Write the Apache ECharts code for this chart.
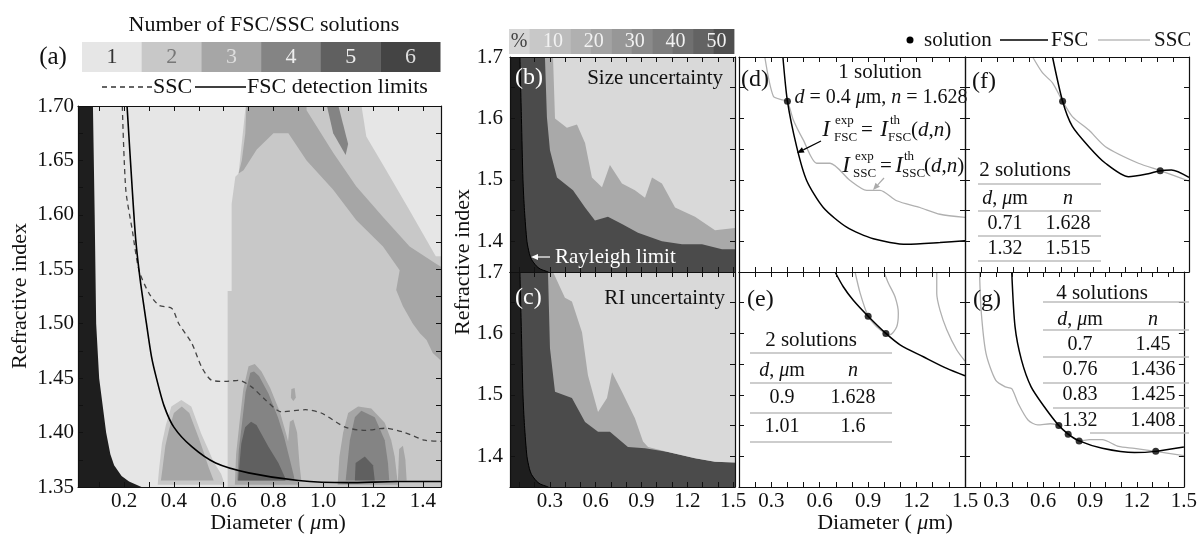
<!DOCTYPE html>
<html>
<head>
<meta charset="utf-8">
<script src="https://cdn.jsdelivr.net/npm/echarts@6/dist/echarts.min.js"></script>
<style>
  html, body { margin: 0; background: #fff; }
  #chart { width: 1200px; height: 537px; }
</style>
</head>
<body>
<div id="chart"></div>
<script>
const FONT = '"Liberation Serif", "Times New Roman", serif';

// ---------- ticks ----------
const aXTicks = [0.1, 0.2, 0.3, 0.4, 0.5, 0.6, 0.7, 0.8, 0.9, 1.0, 1.1, 1.2, 1.3, 1.4];
const aXLabels = [0.2, 0.4, 0.6, 0.8, 1.0, 1.2, 1.4];
const aYTicks = [1.375, 1.4, 1.425, 1.45, 1.475, 1.5, 1.525, 1.55, 1.575, 1.6, 1.625, 1.65, 1.675];
const aYLabels = [1.35, 1.40, 1.45, 1.50, 1.55, 1.60, 1.65, 1.70];
const bcXTicks = [0.1, 0.2, 0.3, 0.4, 0.5, 0.6, 0.7, 0.8, 0.9, 1.0, 1.1, 1.2, 1.3, 1.4, 1.5];
const dgXTicks = [0.2, 0.3, 0.4, 0.5, 0.6, 0.7, 0.8, 0.9, 1.0, 1.1, 1.2, 1.3, 1.4];
const xLabels = [0.3, 0.6, 0.9, 1.2, 1.5];
const nYTicks = [1.4, 1.45, 1.5, 1.55, 1.6, 1.65];
const nYLabels = [1.4, 1.5, 1.6, 1.7];

// ---------- legends ----------
const lvlLabels = ['1', '2', '3', '4', '5', '6'];
const lvlColors = ['#e6e6e6', '#c8c8c8', '#a6a6a6', '#848484', '#606060', '#444444'];
const lvlTextColors = ['#333', '#777', '#ddd', '#eee', '#eee', '#ddd'];
const pctLabels = ['10', '20', '30', '40', '50'];
const pctColors = ['#d6d6d6', '#c8c8c8', '#bcbcbc', '#b0b0b0', '#a3a3a3', '#979797', '#8a8a8a', '#7d7d7d', '#707070', '#636363', '#4f4f4f'];

// ---------- panel (a) ----------
const aRayD = [0.075, 0.082, 0.088, 0.100, 0.128, 0.145, 0.160, 0.190, 0.220, 0.270];
const aRayN = [1.70, 1.60, 1.50, 1.45, 1.40, 1.38, 1.37, 1.36, 1.355, 1.35];
const fscLimD = [0.212, 0.233, 0.247, 0.265, 0.290, 0.310, 0.330, 0.360, 0.400, 0.472, 0.568, 0.700, 0.900, 1.100, 1.300, 1.473];
const fscLimN = [1.700, 1.623, 1.577, 1.540, 1.500, 1.470, 1.450, 1.425, 1.405, 1.387, 1.372, 1.363, 1.356, 1.354, 1.355, 1.355];
const sscLimD = [0.193, 0.207, 0.233, 0.260, 0.300, 0.340, 0.392, 0.420, 0.472, 0.512, 0.552, 0.608, 0.660, 0.712, 0.768, 0.832, 0.928, 0.992, 1.088, 1.168, 1.248, 1.328, 1.408, 1.473];
const sscLimN = [1.700, 1.623, 1.586, 1.549, 1.528, 1.517, 1.514, 1.500, 1.482, 1.460, 1.448, 1.447, 1.448, 1.442, 1.430, 1.419, 1.421, 1.418, 1.405, 1.402, 1.404, 1.400, 1.393, 1.392];

const aLvl2Big = [[0.616, 1.34], [0.616, 1.53], [0.632, 1.53], [0.632, 1.61], [0.647, 1.635], [0.66, 1.638], [0.693, 1.71], [1.49, 1.71], [1.49, 1.34]];
const aLvl1TopRight = [[1.147, 1.71], [1.49, 1.71], [1.49, 1.562], [1.452, 1.562], [1.347, 1.604], [1.24, 1.646], [1.173, 1.672]];
const aLvl3Band = [[0.693, 1.71], [0.933, 1.71], [0.933, 1.696], [1.04, 1.657], [1.133, 1.626], [1.24, 1.598], [1.347, 1.571], [1.453, 1.555], [1.49, 1.55], [1.49, 1.465], [1.469, 1.467], [1.44, 1.473], [1.415, 1.485], [1.389, 1.491], [1.36, 1.50], [1.32, 1.516], [1.293, 1.531], [1.307, 1.549], [1.24, 1.571], [1.133, 1.595], [1.04, 1.623], [0.933, 1.650], [0.86, 1.675], [0.80, 1.675], [0.733, 1.66], [0.68, 1.641], [0.66, 1.638], [0.673, 1.65], [0.687, 1.675]];
const aLvl4Streak = [[1.005, 1.71], [1.05, 1.71], [1.10, 1.665], [1.09, 1.655], [1.04, 1.675]];
const p1Halo = [[0.335, 1.352], [0.34, 1.365], [0.352, 1.39], [0.368, 1.407], [0.39, 1.424], [0.43, 1.43], [0.47, 1.424], [0.51, 1.399], [0.535, 1.386], [0.56, 1.373], [0.59, 1.362], [0.605, 1.352]];
const p1Core = [[0.348, 1.356], [0.355, 1.368], [0.366, 1.388], [0.381, 1.403], [0.40, 1.418], [0.432, 1.424], [0.462, 1.418], [0.50, 1.395], [0.52, 1.382], [0.54, 1.368], [0.56, 1.356]];
const p2Halo = [[0.645, 1.352], [0.65, 1.38], [0.664, 1.41], [0.679, 1.44], [0.70, 1.461], [0.725, 1.463], [0.752, 1.456], [0.787, 1.441], [0.826, 1.419], [0.852, 1.398], [0.876, 1.376], [0.895, 1.36], [0.90, 1.352]];
const p2Body = [[0.655, 1.356], [0.661, 1.384], [0.674, 1.409], [0.688, 1.437], [0.707, 1.455], [0.722, 1.456], [0.742, 1.452], [0.78, 1.436], [0.818, 1.414], [0.843, 1.396], [0.865, 1.376], [0.882, 1.36], [0.885, 1.356]];
const p2Core = [[0.658, 1.356], [0.671, 1.39], [0.686, 1.405], [0.71, 1.41], [0.732, 1.407], [0.78, 1.387], [0.82, 1.372], [0.846, 1.359], [0.848, 1.356]];
const p2Ridge = [[0.855, 1.356], [0.858, 1.39], [0.866, 1.41], [0.88, 1.412], [0.895, 1.40], [0.905, 1.37], [0.912, 1.356]];
const p2Dot = [[0.87, 1.432], [0.872, 1.44], [0.885, 1.441], [0.89, 1.432], [0.88, 1.429]];
const p3Outer = [[1.058, 1.352], [1.065, 1.378], [1.08, 1.40], [1.10, 1.418], [1.14, 1.424], [1.193, 1.422], [1.247, 1.409], [1.273, 1.393], [1.287, 1.378], [1.30, 1.352]];
const p3Inner = [[1.09, 1.356], [1.10, 1.378], [1.107, 1.393], [1.127, 1.414], [1.153, 1.42], [1.207, 1.414], [1.247, 1.393], [1.26, 1.372], [1.265, 1.356]];
const p3Core = [[1.127, 1.356], [1.13, 1.372], [1.167, 1.378], [1.20, 1.37], [1.207, 1.356]];
const p3Ridge = [[1.30, 1.356], [1.305, 1.385], [1.32, 1.388], [1.33, 1.375], [1.335, 1.356]];

// ---------- panels (b), (c) ----------
const bcRayD = [0.103, 0.113, 0.123, 0.133, 0.149, 0.165, 0.180, 0.210, 0.235, 0.290];
const bcRayN = [1.70, 1.60, 1.50, 1.45, 1.40, 1.38, 1.37, 1.36, 1.355, 1.35];
const bDarkD = [0.267, 0.28, 0.30, 0.346, 0.451, 0.53, 0.595, 0.68, 0.772, 0.877, 1.034, 1.166, 1.297, 1.428, 1.52];
const bDarkN = [1.70, 1.602, 1.548, 1.504, 1.483, 1.455, 1.434, 1.44, 1.428, 1.414, 1.40, 1.395, 1.395, 1.387, 1.387];
const bLightD = [0.32, 0.333, 0.411, 0.477, 0.53, 0.575, 0.641, 0.693, 0.772, 0.857, 0.923, 0.969, 1.034, 1.12, 1.251, 1.382, 1.52];
const bLightN = [1.70, 1.60, 1.585, 1.59, 1.56, 1.504, 1.488, 1.524, 1.494, 1.483, 1.471, 1.504, 1.494, 1.455, 1.44, 1.418, 1.422];
const cDarkD = [0.287, 0.30, 0.333, 0.444, 0.53, 0.615, 0.693, 0.811, 0.923, 1.074, 1.251, 1.382, 1.52];
const cDarkN = [1.70, 1.576, 1.505, 1.495, 1.456, 1.44, 1.44, 1.415, 1.413, 1.407, 1.397, 1.391, 1.39];
const cLightD = [0.32, 0.398, 0.444, 0.51, 0.549, 0.615, 0.674, 0.707, 0.772, 0.857, 0.91, 0.943, 1.074, 1.251, 1.382, 1.52];
const cLightN = [1.70, 1.658, 1.652, 1.602, 1.532, 1.472, 1.495, 1.537, 1.505, 1.462, 1.424, 1.415, 1.407, 1.397, 1.391, 1.39];

// ---------- panels (d)-(g) ----------
const dFscD = [0.372, 0.40, 0.457, 0.519, 0.622, 0.767, 0.932, 1.139, 1.345, 1.50];
const dFscN = [1.70, 1.628, 1.554, 1.499, 1.455, 1.423, 1.404, 1.395, 1.398, 1.401];
const dSscD = [0.26, 0.313, 0.374, 0.40, 0.436, 0.498, 0.581, 0.664, 0.788, 0.891, 0.974, 1.077, 1.221, 1.345, 1.50];
const dSscN = [1.70, 1.636, 1.630, 1.628, 1.598, 1.565, 1.527, 1.527, 1.499, 1.483, 1.483, 1.466, 1.455, 1.444, 1.439];
const dSolD = [0.4];
const dSolN = [1.628];

const fFscD = [0.647, 0.71, 0.771, 0.874, 0.978, 1.122, 1.246, 1.32, 1.39, 1.50];
const fFscN = [1.70, 1.628, 1.587, 1.554, 1.527, 1.505, 1.51, 1.515, 1.516, 1.504];
const fSscD = [0.523, 0.585, 0.647, 0.71, 0.771, 0.874, 0.978, 1.184, 1.32, 1.50];
const fSscN = [1.70, 1.674, 1.658, 1.628, 1.603, 1.581, 1.554, 1.527, 1.515, 1.498];
const fSolD = [0.71, 1.32];
const fSolN = [1.628, 1.515];

const eFscD = [0.695, 0.746, 0.808, 0.90, 1.01, 1.10, 1.242, 1.387, 1.50];
const eFscN = [1.70, 1.676, 1.654, 1.628, 1.60, 1.581, 1.562, 1.543, 1.531];
const eSsc1D = [0.819, 0.85, 0.90, 0.953, 1.01, 1.036, 1.077, 1.087, 1.066, 1.025, 0.998];
const eSsc1N = [1.70, 1.666, 1.628, 1.611, 1.60, 1.598, 1.611, 1.633, 1.66, 1.682, 1.70];
const eSsc2D = [1.325, 1.325, 1.345, 1.387, 1.449, 1.50];
const eSsc2N = [1.70, 1.665, 1.638, 1.606, 1.573, 1.555];
const eSolD = [0.9, 1.01];
const eSolN = [1.628, 1.6];

const gFscD = [0.399, 0.42, 0.461, 0.523, 0.606, 0.70, 0.76, 0.83, 0.978, 1.184, 1.32, 1.50];
const gFscN = [1.70, 1.611, 1.557, 1.513, 1.481, 1.45, 1.436, 1.425, 1.413, 1.406, 1.408, 1.415];
const gSscD = [0.193, 0.203, 0.234, 0.296, 0.358, 0.399, 0.44, 0.503, 0.565, 0.647, 0.70, 0.76, 0.83, 0.896, 0.978, 1.082, 1.184, 1.32, 1.50];
const gSscN = [1.70, 1.638, 1.568, 1.524, 1.513, 1.51, 1.486, 1.459, 1.451, 1.453, 1.45, 1.436, 1.425, 1.427, 1.427, 1.416, 1.413, 1.408, 1.401];
const gSolD = [0.7, 0.76, 0.83, 1.32];
const gSolN = [1.45, 1.436, 1.425, 1.408];

// ---------- helpers ----------
const zip = (xs, ys) => xs.map((x, i) => [x, ys[i]]);

const xAxes = [];
const yAxes = [];
function addAxes(gi, xr, yr, xT, xL, yT, yL, xDec, yDec, yMargin) {
  ['bottom', 'top'].forEach((pos, k) => xAxes.push({
    type: 'value', gridIndex: gi, position: pos, min: xr[0], max: xr[1], z: 10,
    axisLine: { show: true, onZero: false, lineStyle: { color: '#111', width: 1.2 } },
    axisTick: { show: true, inside: true, length: 5, customValues: xT, lineStyle: { color: '#111' } },
    axisLabel: { show: k === 0 && !!xL, customValues: xL || [], formatter: v => v.toFixed(xDec),
      fontFamily: FONT, fontSize: 21, color: '#111', margin: 4, showMinLabel: true, showMaxLabel: true },
    splitLine: { show: false }
  }));
  ['left', 'right'].forEach((pos, k) => yAxes.push({
    type: 'value', gridIndex: gi, position: pos, min: yr[0], max: yr[1], z: 10,
    axisLine: { show: true, onZero: false, lineStyle: { color: '#111', width: 1.2 } },
    axisTick: { show: true, inside: true, length: 5, customValues: yT, lineStyle: { color: '#111' } },
    axisLabel: { show: k === 0 && !!yL, customValues: yL || [], formatter: v => v.toFixed(yDec),
      fontFamily: FONT, fontSize: 21, color: '#111', margin: yMargin || 4, showMinLabel: true, showMaxLabel: true },
    splitLine: { show: false }
  }));
}

function poly(gi, pts, color) {
  return {
    type: 'custom', xAxisIndex: gi * 2, yAxisIndex: gi * 2, clip: true, silent: true, z: 2,
    data: [pts[0]],
    renderItem: function (params, api) {
      return { type: 'polygon', shape: { points: pts.map(p => api.coord(p)) }, style: { fill: color } };
    }
  };
}
function curve(gi, xs, ys, color, w, dash) {
  return {
    type: 'line', xAxisIndex: gi * 2, yAxisIndex: gi * 2, data: zip(xs, ys), showSymbol: false,
    smooth: 0.25, silent: true, z: 5, lineStyle: { color: color, width: w, type: dash || 'solid' }
  };
}
function dots(gi, xs, ys) {
  return {
    type: 'scatter', xAxisIndex: gi * 2, yAxisIndex: gi * 2, data: zip(xs, ys), symbolSize: 7,
    silent: true, z: 6, itemStyle: { color: '#000' }
  };
}
function blackRegion(gi, xmin, xs, ys) {
  return poly(gi, [[xmin - 0.05, 1.71]].concat(zip(xs, ys), [[xmin - 0.05, 1.34]]), '#1e1e1e');
}
function above(edge, right, topLeft) {
  return edge.concat([[right, 1.71], [topLeft, 1.71]]);
}

function txt(x, y, s, o) {
  o = o || {};
  const size = o.size || 21;
  const color = o.color || '#111';
  return {
    type: 'text', x: x, y: y, rotation: o.rot || 0, z: 100,
    style: {
      text: s, fontFamily: FONT, fontSize: size, fontStyle: o.it ? 'italic' : 'normal', fill: color,
      align: o.align || 'center', textAlign: o.align || 'center', verticalAlign: 'middle', textVerticalAlign: 'middle',
      rich: { i: { fontStyle: 'italic', fontFamily: FONT, fontSize: size, fill: color } }
    }
  };
}
function hline(x1, x2, y, color, w, dash) {
  return { type: 'line', z: 100, shape: { x1: x1, y1: y, x2: x2, y2: y },
    style: { stroke: color, lineWidth: w || 1.5, lineDash: dash || null } };
}
function arrow(x1, y1, x2, y2, color) {
  const a = Math.atan2(y2 - y1, x2 - x1), L = 7, W = 3;
  const bx = x2 - L * Math.cos(a), by = y2 - L * Math.sin(a);
  return [
    { type: 'line', z: 100, shape: { x1: x1, y1: y1, x2: bx, y2: by }, style: { stroke: color, lineWidth: 1.2 } },
    { type: 'polygon', z: 100, shape: { points: [[x2, y2], [bx - W * Math.sin(a), by + W * Math.cos(a)], [bx + W * Math.sin(a), by - W * Math.cos(a)]] },
      style: { fill: color } }
  ];
}
function table(x0, x1, title, titleX, titleY, lineYs, colX, headY, rowYs, ds, ns, partial) {
  const g = [txt(titleX, titleY, title, { size: 21 })];
  lineYs.forEach((y, i) => g.push(hline(partial && partial[i] ? partial[i] : x0, x1, y, '#bdbdbd', 1.5)));
  g.push(txt(colX[0], headY, '{i|d}, {i|μ}m', { size: 20 }));
  g.push(txt(colX[1], headY, '{i|n}', { size: 20 }));
  ds.forEach((d, i) => {
    g.push(txt(colX[0], rowYs[i], String(d), { size: 20 }));
    g.push(txt(colX[1], rowYs[i], String(ns[i]), { size: 20 }));
  });
  return g;
}

// ---------- axes ----------
addAxes(0, [0.015, 1.473], [1.35, 1.70], aXTicks, aXLabels, aYTicks, aYLabels, 1, 2, 4);
addAxes(1, [0.038, 1.513], [1.35, 1.70], bcXTicks, null, nYTicks, nYLabels, 1, 1, 7);
addAxes(2, [0.038, 1.513], [1.35, 1.70], bcXTicks, xLabels, nYTicks, nYLabels, 1, 1, 7);
addAxes(3, [0.1, 1.5], [1.35, 1.70], dgXTicks, null, nYTicks, null, 1, 1);
addAxes(4, [0.1, 1.5], [1.35, 1.70], dgXTicks, xLabels, nYTicks, null, 1, 1);
addAxes(5, [0.1, 1.5], [1.35, 1.70], dgXTicks, null, nYTicks, null, 1, 1);
addAxes(6, [0.1, 1.5], [1.35, 1.70], dgXTicks, xLabels, nYTicks, null, 1, 1);

// ---------- series ----------
const series = [
  poly(0, aLvl2Big, lvlColors[1]),
  poly(0, aLvl1TopRight, lvlColors[0]),
  poly(0, aLvl3Band, lvlColors[2]),
  poly(0, aLvl4Streak, lvlColors[3]),
  poly(0, p1Halo, lvlColors[1]),
  poly(0, p1Core, lvlColors[2]),
  poly(0, p2Halo, lvlColors[2]),
  poly(0, p2Ridge, lvlColors[2]),
  poly(0, p2Dot, lvlColors[2]),
  poly(0, p2Body, lvlColors[3]),
  poly(0, p2Core, lvlColors[4]),
  poly(0, p3Outer, lvlColors[2]),
  poly(0, p3Ridge, lvlColors[2]),
  poly(0, p3Inner, lvlColors[3]),
  poly(0, p3Core, lvlColors[4]),
  blackRegion(0, 0.015, aRayD, aRayN),
  curve(0, sscLimD, sscLimN, '#444', 1.3, [5, 4]),
  curve(0, fscLimD, fscLimN, '#000', 1.6),

  poly(1, above(zip(bDarkD, bDarkN), 1.53, 0.267), '#a9a9a9'),
  poly(1, above(zip(bLightD, bLightN), 1.53, 0.32), '#d9d9d9'),
  blackRegion(1, 0.038, bcRayD, bcRayN),
  curve(1, bcRayD, bcRayN, '#000', 1),

  poly(2, above(zip(cDarkD, cDarkN), 1.53, 0.287), '#a9a9a9'),
  poly(2, above(zip(cLightD, cLightN), 1.53, 0.32), '#d9d9d9'),
  blackRegion(2, 0.038, bcRayD, bcRayN),
  curve(2, bcRayD, bcRayN, '#000', 1),

  curve(3, dSscD, dSscN, '#b0b0b0', 1.3),
  curve(3, dFscD, dFscN, '#000', 1.5),
  dots(3, dSolD, dSolN),

  curve(4, eSsc1D, eSsc1N, '#b0b0b0', 1.3),
  curve(4, eSsc2D, eSsc2N, '#b0b0b0', 1.3),
  curve(4, eFscD, eFscN, '#000', 1.5),
  dots(4, eSolD, eSolN),

  curve(5, fSscD, fSscN, '#b0b0b0', 1.3),
  curve(5, fFscD, fFscN, '#000', 1.5),
  dots(5, fSolD, fSolN),

  curve(6, gSscD, gSscN, '#b0b0b0', 1.3),
  curve(6, gFscD, gFscN, '#000', 1.5),
  dots(6, gSolD, gSolN)
];

// ---------- graphic: legends, labels, tables ----------
let graphic = [];
graphic.push(txt(264, 25, 'Number of FSC/SSC solutions', { size: 22 }));
graphic.push(txt(53, 57, '(a)', { size: 25 }));
lvlLabels.forEach((l, i) => {
  graphic.push({ type: 'rect', z: 90, shape: { x: 82 + i * 59.7, y: 42, width: 60, height: 30 }, style: { fill: lvlColors[i] } });
  graphic.push(txt(82 + i * 59.7 + 30, 57, l, { size: 22, color: lvlTextColors[i] }));
});
graphic.push(hline(102, 152, 87, '#333', 1.3, [5, 4]));
graphic.push(txt(153, 87, 'SSC', { size: 22, align: 'left' }));
graphic.push(hline(195, 246, 87, '#000', 1.5));
graphic.push(txt(247, 87, 'FSC detection limits', { size: 22, align: 'left' }));

pctColors.forEach((c, i) => {
  graphic.push({ type: 'rect', z: 90, shape: { x: 509 + i * 20.45, y: 29, width: 20.9, height: 25 }, style: { fill: c } });
});
graphic.push(txt(519, 42, '%', { size: 20, color: '#444' }));
pctLabels.forEach((l, i) => graphic.push(txt(509 + (i + 1) * 2 * 20.45 + 3, 42, l, { size: 20, color: '#f2f2f2' })));

graphic.push({ type: 'circle', z: 100, shape: { cx: 910, cy: 40, r: 3.5 }, style: { fill: '#000' } });
graphic.push(txt(924, 40, 'solution', { size: 21, align: 'left' }));
graphic.push(hline(1000, 1048, 40, '#000', 1.5));
graphic.push(txt(1051, 40, 'FSC', { size: 21, align: 'left' }));
graphic.push(hline(1098, 1150, 40, '#bbbbbb', 1.5));
graphic.push(txt(1154, 40, 'SSC', { size: 21, align: 'left' }));

graphic.push(txt(515, 78, '(b)', { size: 24, color: '#fff', align: 'left' }));
graphic.push(txt(723, 78, 'Size uncertainty', { size: 21, align: 'right' }));
graphic.push(txt(555, 257, 'Rayleigh limit', { size: 21, color: '#fff', align: 'left' }));
graphic = graphic.concat(arrow(550, 257, 531, 257, '#fff'));
graphic.push(txt(515, 298, '(c)', { size: 24, color: '#fff', align: 'left' }));
graphic.push(txt(725, 298, 'RI uncertainty', { size: 21, align: 'right' }));

graphic.push(txt(741, 80, '(d)', { size: 24, align: 'left' }));
graphic.push(txt(972, 82, '(f)', { size: 24, align: 'left' }));
graphic.push(txt(747, 300, '(e)', { size: 24, align: 'left' }));
graphic.push(txt(973, 300, '(g)', { size: 24, align: 'left' }));

graphic.push(txt(880, 72, '1 solution', { size: 21 }));
graphic.push(txt(881, 98, '{i|d} = ' + dSolD[0] + ' {i|μ}m, {i|n} = ' + dSolN[0], { size: 20 }));
// I_FSC^exp = I_FSC^th(d,n)
graphic.push(txt(826, 130, 'I', { size: 23, it: true }));
graphic.push(txt(835, 121, 'exp', { size: 13, align: 'left' }));
graphic.push(txt(834, 138, 'FSC', { size: 13, align: 'left' }));
graphic.push(txt(867, 130, '=', { size: 21 }));
graphic.push(txt(884, 130, 'I', { size: 23, it: true }));
graphic.push(txt(890, 121, 'th', { size: 13, align: 'left' }));
graphic.push(txt(888, 138, 'FSC', { size: 13, align: 'left' }));
graphic.push(txt(911, 130, '({i|d},{i|n})', { size: 21, align: 'left' }));
// I_SSC^exp = I_SSC^th(d,n)
graphic.push(txt(846, 166, 'I', { size: 23, it: true }));
graphic.push(txt(855, 157, 'exp', { size: 13, align: 'left' }));
graphic.push(txt(853, 174, 'SSC', { size: 13, align: 'left' }));
graphic.push(txt(886, 166, '=', { size: 21 }));
graphic.push(txt(899, 166, 'I', { size: 23, it: true }));
graphic.push(txt(904, 157, 'th', { size: 13, align: 'left' }));
graphic.push(txt(902, 174, 'SSC', { size: 13, align: 'left' }));
graphic.push(txt(924, 166, '({i|d},{i|n})', { size: 21, align: 'left' }));
graphic = graphic.concat(arrow(821, 141, 797, 153, '#000'));
graphic = graphic.concat(arrow(884, 178, 873, 190, '#aaaaaa'));

graphic = graphic.concat(table(978, 1101, '2 solutions', 1025, 170, [184, 211, 236, 261], [1005, 1068], 199, [224, 249], fSolD, fSolN));
graphic = graphic.concat(table(750, 892, '2 solutions', 811, 340, [353, 383, 413, 442], [782, 853], 371, [398, 427], eSolD, eSolN));
graphic = graphic.concat(table(1043, 1189, '4 solutions', 1102, 293, [302, 330, 357, 383, 408, 433], [1080, 1153], 320, [345, 370, 395, 421], gSolD, gSolN,
  [null, null, null, null, 1053, 1090]));

graphic.push(txt(20, 296, 'Refractive index', { size: 22, rot: Math.PI / 2 }));
graphic.push(txt(463, 262, 'Refractive index', { size: 22, rot: Math.PI / 2 }));
graphic.push(txt(278, 523, 'Diameter ( {i|μ}m)', { size: 22 }));
graphic.push(txt(885, 523, 'Diameter ( {i|μ}m)', { size: 22 }));

const chart = echarts.init(document.getElementById('chart'), null, { renderer: 'canvas' });
chart.setOption({
  animation: false,
  backgroundColor: '#fff',
  grid: [
    { left: 78, top: 106, width: 363, height: 381, show: true, backgroundColor: '#e6e6e6', borderWidth: 0 },
    { left: 510, top: 57, width: 225, height: 215, show: true, backgroundColor: '#4b4b4b', borderWidth: 0 },
    { left: 510, top: 272, width: 225, height: 215, show: true, backgroundColor: '#4b4b4b', borderWidth: 0 },
    { left: 739, top: 57, width: 226, height: 215 },
    { left: 739, top: 272, width: 226, height: 215 },
    { left: 965, top: 57, width: 224, height: 215 },
    { left: 965, top: 272, width: 224, height: 215 }
  ],
  xAxis: xAxes,
  yAxis: yAxes,
  series: series,
  graphic: graphic
});
</script>
</body>
</html>
